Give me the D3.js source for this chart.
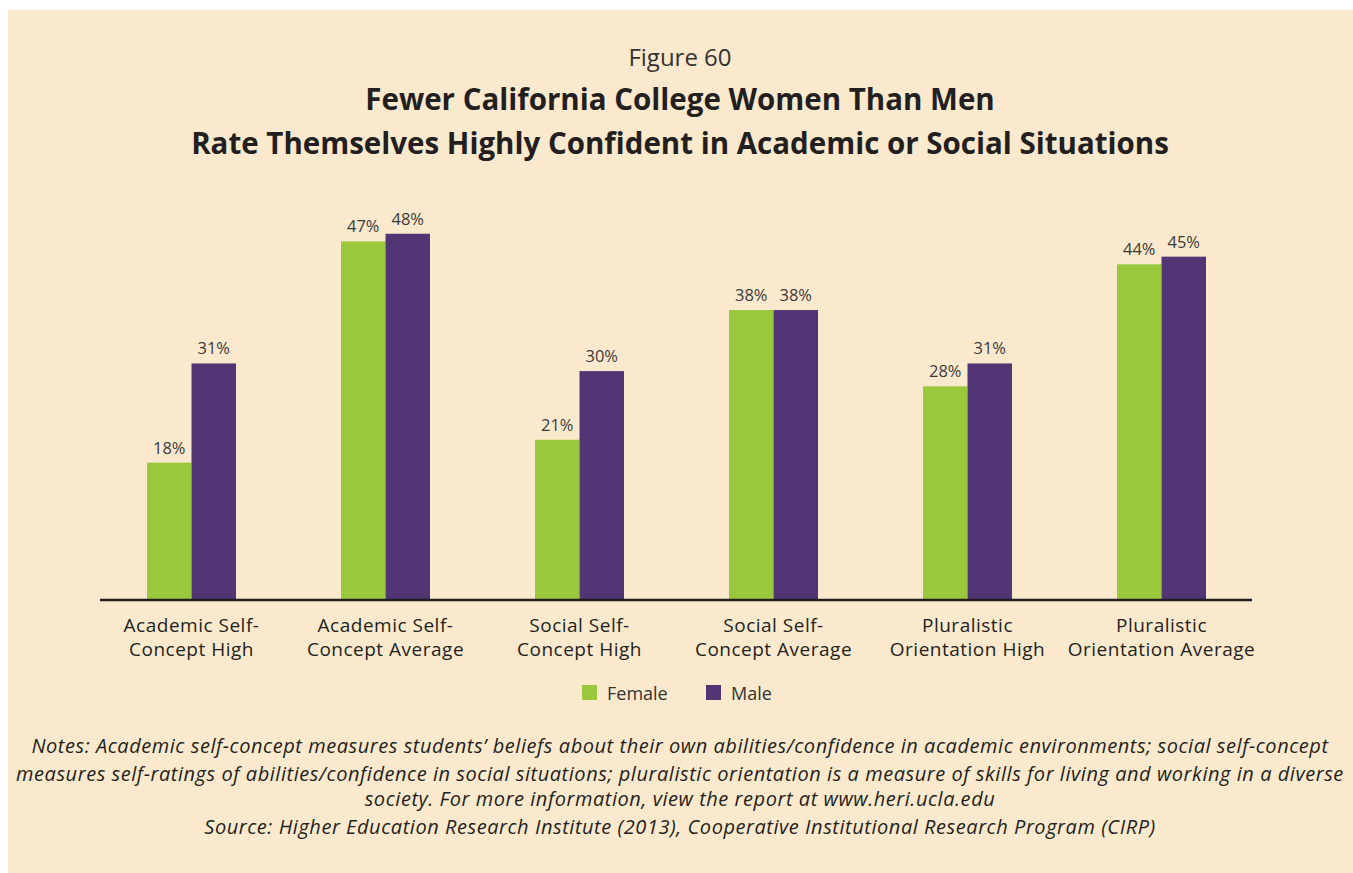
<!DOCTYPE html>
<html>
<head>
<meta charset="utf-8">
<script src="https://cdn.jsdelivr.net/npm/d3@7"></script>
<style>
  html, body { margin: 0; padding: 0; background: #ffffff; }
  svg { display: block; }
  text { font-family: "Open Sans", Lato, sans-serif; }
</style>
</head>
<body>
<svg id="chart" width="1353" height="873"></svg>
<script>
// Categories (two-line labels) and series values, in percent
const categories = [
  ["Academic Self-", "Concept High"],
  ["Academic Self-", "Concept Average"],
  ["Social Self-", "Concept High"],
  ["Social Self-", "Concept Average"],
  ["Pluralistic", "Orientation High"],
  ["Pluralistic", "Orientation Average"]
];
const female = [18, 47, 21, 38, 28, 44];
const male = [31, 48, 30, 38, 31, 45];
const seriesNames = ["Female", "Male"];
const seriesColors = ["#99c83c", "#523575"];

const figureLabel = "Figure 60";
const titleLines = [
  "Fewer California College Women Than Men",
  "Rate Themselves Highly Confident in Academic or Social Situations"
];
const noteLines = [
  "Notes: Academic self-concept measures students\u2019 beliefs about their own abilities/confidence in academic environments; social self-concept",
  "measures self-ratings of abilities/confidence in social situations; pluralistic orientation is a measure of skills for living and working in a diverse",
  "society. For more information, view the report at www.heri.ucla.edu",
  "Source: Higher Education Research Institute (2013), Cooperative Institutional Research Program (CIRP)"
];

const svg = d3.select("#chart");
const W = 1353, H = 873, cx = 680;

// Panel background
svg.append("rect").attr("x", 8).attr("y", 10).attr("width", W - 8).attr("height", H - 10)
  .attr("fill", "#fae9cc");

// Titles
svg.append("text").attr("x", cx).attr("y", 66).attr("text-anchor", "middle")
  .attr("font-size", 24).attr("fill", "#333").text(figureLabel);
svg.selectAll("text.title").data(titleLines).join("text")
  .attr("class", "title")
  .attr("x", cx).attr("y", (d, i) => 110 + i * 44)
  .attr("text-anchor", "middle").attr("font-size", 29.5).attr("font-weight", 700)
  .attr("fill", "#231f20").text(d => d);

// Scales
const rows = categories.map((c, i) => ({ cat: i, values: [female[i], male[i]] }));
const x0 = d3.scaleBand().domain(d3.range(categories.length))
  .range([94.5, 94.5 + 194 * categories.length]).paddingInner(0).paddingOuter(0);
const x1 = d3.scaleBand().domain(d3.range(seriesNames.length))
  .range([0, 89]);
const y = d3.scaleLinear().domain([0, 50]).range([600, 218.5]);
const inset = (x0.bandwidth() - 89) / 2;

const groups = svg.append("g").selectAll("g").data(rows).join("g")
  .attr("transform", d => `translate(${x0(d.cat) + inset},0)`);

groups.selectAll("rect").data(d => d.values.map((v, s) => ({ v, s }))).join("rect")
  .attr("x", d => x1(d.s)).attr("width", x1.bandwidth())
  .attr("y", d => y(d.v)).attr("height", d => y(0) - y(d.v))
  .attr("fill", d => seriesColors[d.s]);

groups.selectAll("text").data(d => d.values.map((v, s) => ({ v, s }))).join("text")
  .attr("x", d => x1(d.s) + x1.bandwidth() / 2)
  .attr("y", d => y(d.v) - 9)
  .attr("text-anchor", "middle").attr("font-size", 16.5).attr("fill", "#3a3a3a")
  .text(d => d.v + "%");

// Baseline
svg.append("line").attr("x1", 100).attr("x2", 1252).attr("y1", y(0)).attr("y2", y(0))
  .attr("stroke", "#231f20").attr("stroke-width", 2.5);

// Category labels, one text element per line
const catLines = categories.flatMap((lines, i) => lines.map((line, j) => ({ line, i, j })));
svg.append("g").selectAll("text").data(catLines).join("text")
  .attr("x", d => x0(d.i) + x0.bandwidth() / 2)
  .attr("y", d => 632 + d.j * 24)
  .attr("text-anchor", "middle").attr("font-size", 19).attr("letter-spacing", 0.5)
  .attr("fill", "#231f20")
  .text(d => d.line);

// Legend
const legendX = [582, 706];
const leg = svg.append("g").selectAll("g").data(seriesNames).join("g")
  .attr("transform", (d, i) => `translate(${legendX[i]},685)`);
leg.append("rect").attr("width", 15).attr("height", 15).attr("fill", (d, i) => seriesColors[i]);
leg.append("text").attr("x", 25).attr("y", 15).attr("font-size", 18).attr("fill", "#333").text(d => d);

// Notes
svg.selectAll("text.note").data(noteLines).join("text")
  .attr("class", "note")
  .attr("x", cx).attr("y", (d, i) => [753, 781, 806, 834][i])
  .attr("text-anchor", "middle").attr("font-size", 20).attr("letter-spacing", 0.55)
  .attr("font-style", "italic")
  .attr("fill", "#231f20").text(d => d);
</script>
</body>
</html>
